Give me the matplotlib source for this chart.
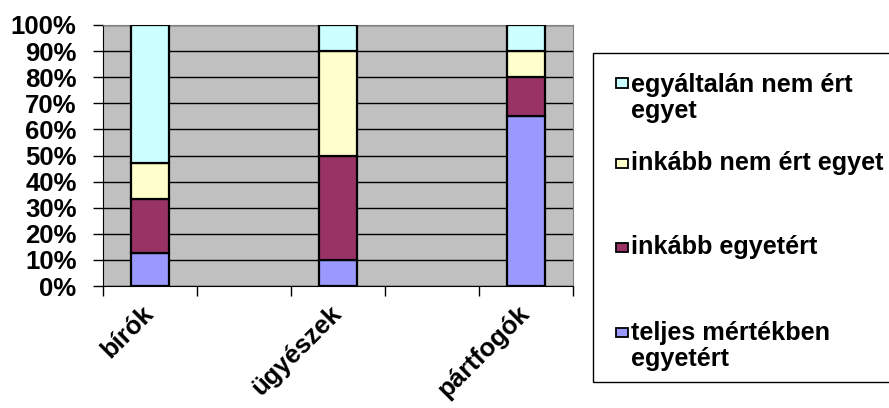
import numpy as np
import matplotlib.pyplot as plt
import matplotlib.transforms as mtransforms
from matplotlib.patches import Rectangle

plt.rcParams['font.family'] = ['Liberation Sans', 'DejaVu Sans']

# categories sit on every second slot of the axis (Excel left empty ones between)
categories = ['bírók', 'ügyészek', 'pártfogók']
slots = [0, 2, 4]

series_names = ['teljes mértékben\negyetért', 'inkább egyetért',
                'inkább nem ért egyet', 'egyáltalán nem ért\negyet']
teljes = [12.5, 10, 65]
inkabb_egyet = [21, 40, 15]
inkabb_nem = [13.5, 40, 10]
egyaltalan_nem = [53, 10, 10]
colors = ['#9999FF', '#993366', '#FFFFCC', '#CCFFFF']

FS = 18.5
W, H = 889, 408
fig = plt.figure(figsize=(W / 100, H / 100), dpi=100)
ax = fig.add_axes([103 / W, 1 - 286 / H, (573 - 103) / W, (286 - 25) / H])
ax.set_facecolor('#C0C0C0')

values = [teljes, inkabb_egyet, inkabb_nem, egyaltalan_nem]
bottom = np.zeros(len(categories))
for vals, col in zip(values, colors):
    ax.bar(slots, vals, bottom=bottom, width=0.4, color=col,
           edgecolor='black', linewidth=1.6, zorder=3)
    bottom += np.array(vals)

ax.set_xlim(-0.5, 4.5)
ax.set_ylim(0, 100)
ax.set_yticks(np.arange(0, 101, 10))
ax.set_yticklabels([f'{v}%' for v in range(0, 101, 10)],
                   fontsize=FS, fontweight='bold')
ax.yaxis.grid(True, color='black', linewidth=1.0, zorder=1)
ax.set_axisbelow(True)

ax.set_xticks(np.arange(-0.5, 4.6, 1.0))
ax.set_xticklabels([])
ax.set_xticks(slots, minor=True)
ax.set_xticklabels(categories, minor=True, rotation=45, ha='right',
                   va='top', rotation_mode='anchor',
                   fontsize=FS, fontweight='bold')
ax.tick_params(axis='x', which='minor', length=0, pad=11)
ax.tick_params(axis='x', which='major', length=7, direction='out', width=1)
ax.tick_params(axis='y', length=7, direction='out', width=1, pad=12)
offset = mtransforms.ScaledTranslation(-9 / 100, 0, fig.dpi_scale_trans)
for lbl in ax.xaxis.get_minorticklabels():
    lbl.set_transform(lbl.get_transform() + offset)

for side in ['top', 'right']:
    ax.spines[side].set_color('#808080')
for side in ['left', 'bottom']:
    ax.spines[side].set_color('black')

# legend drawn by hand, Excel style
def fx(px):
    return px / W

def fy(py):
    return 1 - py / H

fig.patches.append(Rectangle((fx(593), fy(382)), fx(W + 5) - fx(593),
                             fy(53) - fy(382), transform=fig.transFigure,
                             facecolor='white', edgecolor='black',
                             linewidth=1.0))
legend_centers = [98, 163, 247, 346]
marker_y = [83, 163, 247, 332]
for name, col, cy, my in zip(reversed(series_names), reversed(colors),
                             legend_centers, marker_y):
    fig.patches.append(Rectangle((fx(616), fy(my + 4.5)), fx(12), fy(0) - fy(9),
                                 transform=fig.transFigure, facecolor=col,
                                 edgecolor='black', linewidth=1.3))
    fig.text(fx(631), fy(cy), name, fontsize=18.2, fontweight='bold',
             va='center', ha='left', linespacing=1.15)

fig.savefig('out.png', dpi=100)
